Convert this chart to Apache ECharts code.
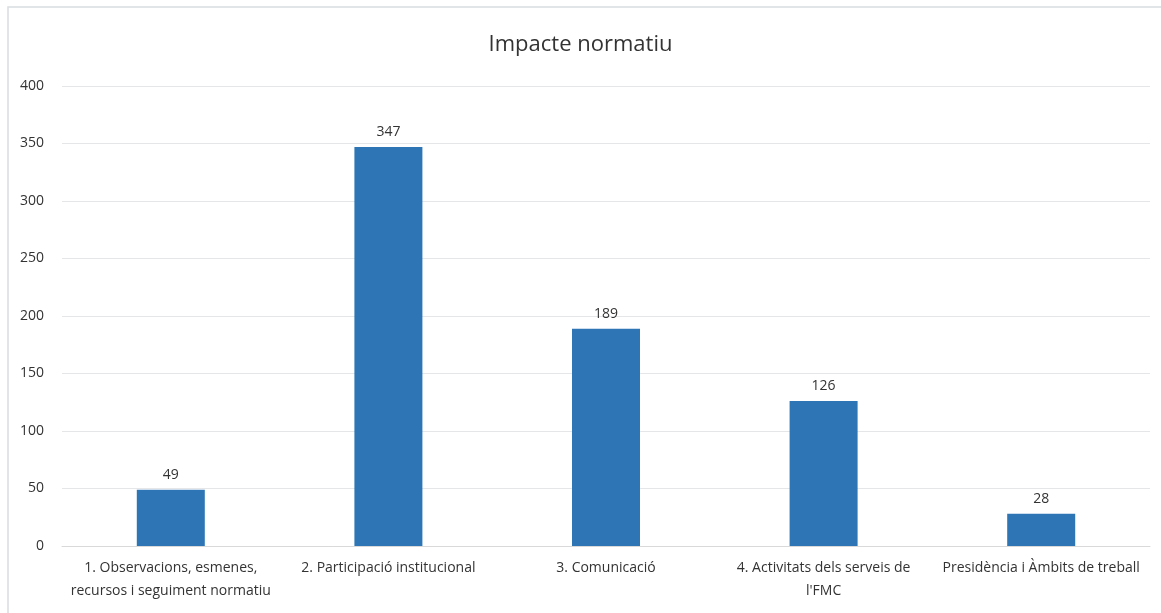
<!DOCTYPE html>
<html><head><meta charset="utf-8">
<script src="https://cdn.jsdelivr.net/npm/echarts@6/dist/echarts.min.js"></script>
<style>html,body{margin:0;padding:0;background:#fff}#c{width:1161px;height:613px}</style>
</head><body><div id="c"></div>
<script>
const categories = [
  "1. Observacions, esmenes,\nrecursos i seguiment normatiu",
  "2. Participació institucional",
  "3. Comunicació",
  "4. Activitats dels serveis de\nl'FMC",
  "Presidència i Àmbits de treball"
];
const values = [49, 347, 189, 126, 28];
const titleText = "Impacte normatiu";

const chart = echarts.init(document.getElementById('c'), null, {renderer: 'canvas'});
chart.setOption({
  backgroundColor: '#fff',
  animation: false,
  title: {
    text: titleText, left: 'center', top: 29,
    textStyle: {fontFamily: 'Open Sans', fontSize: 22, fontWeight: 'normal', color: '#333'}
  },
  graphic: [{
    type: 'rect', shape: {x: 8, y: 7, width: 1200, height: 700},
    style: {fill: 'none', stroke: '#d9dde0', lineWidth: 1.5}, silent: true
  }],
  grid: {left: 62, right: 11, top: 86, bottom: 67},
  xAxis: {
    type: 'category', data: categories,
    axisLine: {show: true, lineStyle: {color: '#d9d9d9'}},
    axisTick: {show: false},
    axisLabel: {fontFamily: 'Open Sans', fontSize: 14, color: '#333', lineHeight: 23, margin: 11, interval: 0}
  },
  yAxis: {
    type: 'value', min: 0, max: 400, interval: 50,
    axisLine: {show: false}, axisTick: {show: false},
    splitLine: {lineStyle: {color: '#e4e6e8'}},
    axisLabel: {fontFamily: 'Open Sans', fontSize: 14, color: '#333', margin: 18}
  },
  series: [{
    type: 'bar', data: values, barWidth: 68,
    itemStyle: {color: '#2e75b6'},
    label: {show: true, position: 'top', distance: 8, fontFamily: 'Open Sans', fontSize: 14, color: '#333'}
  }]
});
</script></body></html>
